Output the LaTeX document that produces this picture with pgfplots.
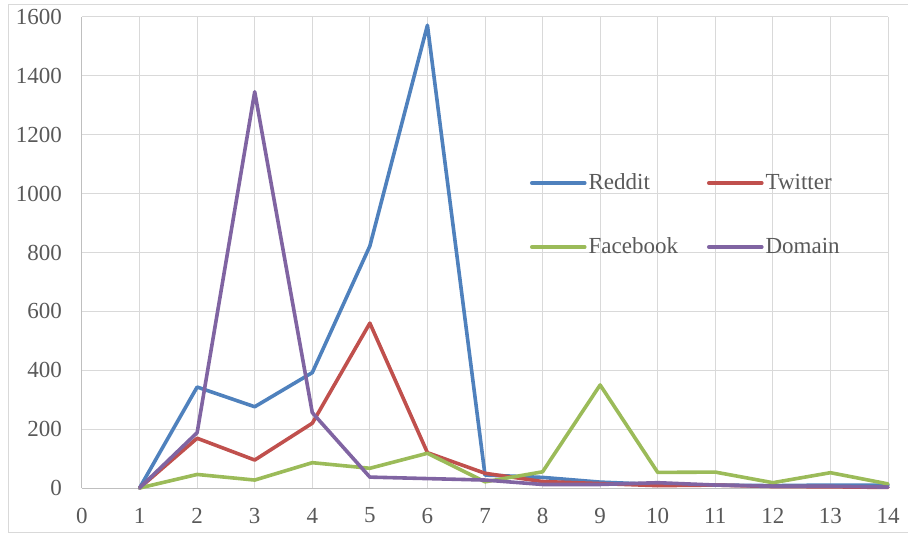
\documentclass[border=0pt]{standalone}
\usepackage{fontspec}
\setmainfont{Liberation Serif}
\usepackage{pgfplots}
\pgfplotsset{compat=1.18}
\definecolor{cReddit}{HTML}{4F81BD}
\definecolor{cTwitter}{HTML}{C0504D}
\definecolor{cFacebook}{HTML}{9BBB59}
\definecolor{cDomain}{HTML}{8064A2}
\definecolor{gridgray}{HTML}{D9D9D9}
\definecolor{axisgray}{HTML}{BFBFBF}
\definecolor{labelgray}{HTML}{595959}

\begin{document}
\begin{tikzpicture}
  \useasboundingbox (-82bp,-45bp) rectangle (826bp,488bp);
  \draw[gridgray, line width=1bp] (-73bp,-44bp) rectangle (830bp,483bp);
  \begin{axis}[
    at={(0,0)}, anchor=south west,
    scale only axis, width=806bp, height=471bp,
    xmin=0, xmax=14, ymin=0, ymax=1600,
    xtick={0,...,14}, ytick={0,200,...,1600},
    grid=major,
    major grid style={draw=gridgray, line width=1bp},
    axis x line*=bottom, axis y line*=left,
    axis line style={draw=axisgray, line width=1bp, -},
    major tick length=0pt,
    clip=false,
    ticklabel style={font=\fontsize{23bp}{26bp}\selectfont, text=labelgray, inner sep=0pt},
    /pgf/number format/assume math mode=true,
    /pgf/number format/1000 sep={},
    xticklabel style={anchor=center, yshift=-27.5bp},
    yticklabel style={anchor=east, xshift=-20bp},
    legend columns=2,
    legend cell align=left,
    legend image code/.code={\draw[#1] (0bp,0bp) -- (53bp,0bp);},
    legend style={draw=none, fill=none, inner sep=0pt, outer sep=0pt,
      at={(0.5558,0.5796)}, anchor=west,
      font=\fontsize{23bp}{26bp}\selectfont, text=labelgray,
      nodes={inner sep=0pt, text height=18bp, text depth=5bp},
      row sep=41bp, column sep=2bp,
      /tikz/every even column/.append style={column sep=29bp}},
    every axis plot/.append style={line width=3.6bp, line join=round, line cap=round},
  ]
  \addplot[cReddit] coordinates {
    (1,0) (2,343) (3,276) (4,392) (5,822) (6,1572) (7,44)
    (8,36) (9,20) (10,12) (11,10) (12,8) (13,10) (14,10)
  };
  \addlegendentry{Reddit}
  \addplot[cTwitter] coordinates {
    (1,0) (2,169) (3,95) (4,220) (5,560) (6,120) (7,50)
    (8,22) (9,15) (10,8) (11,10) (12,5) (13,4) (14,2)
  };
  \addlegendentry{Twitter}
  \addplot[cFacebook] coordinates {
    (1,0) (2,46) (3,27) (4,86) (5,67) (6,118) (7,21)
    (8,55) (9,350) (10,53) (11,54) (12,18) (13,52) (14,14)
  };
  \addlegendentry{Facebook}
  \addplot[cDomain] coordinates {
    (1,0) (2,188) (3,1346) (4,256) (5,37) (6,32) (7,27)
    (8,12) (9,12) (10,18) (11,10) (12,6) (13,6) (14,3)
  };
  \addlegendentry{Domain}
  \end{axis}
\end{tikzpicture}
\end{document}
